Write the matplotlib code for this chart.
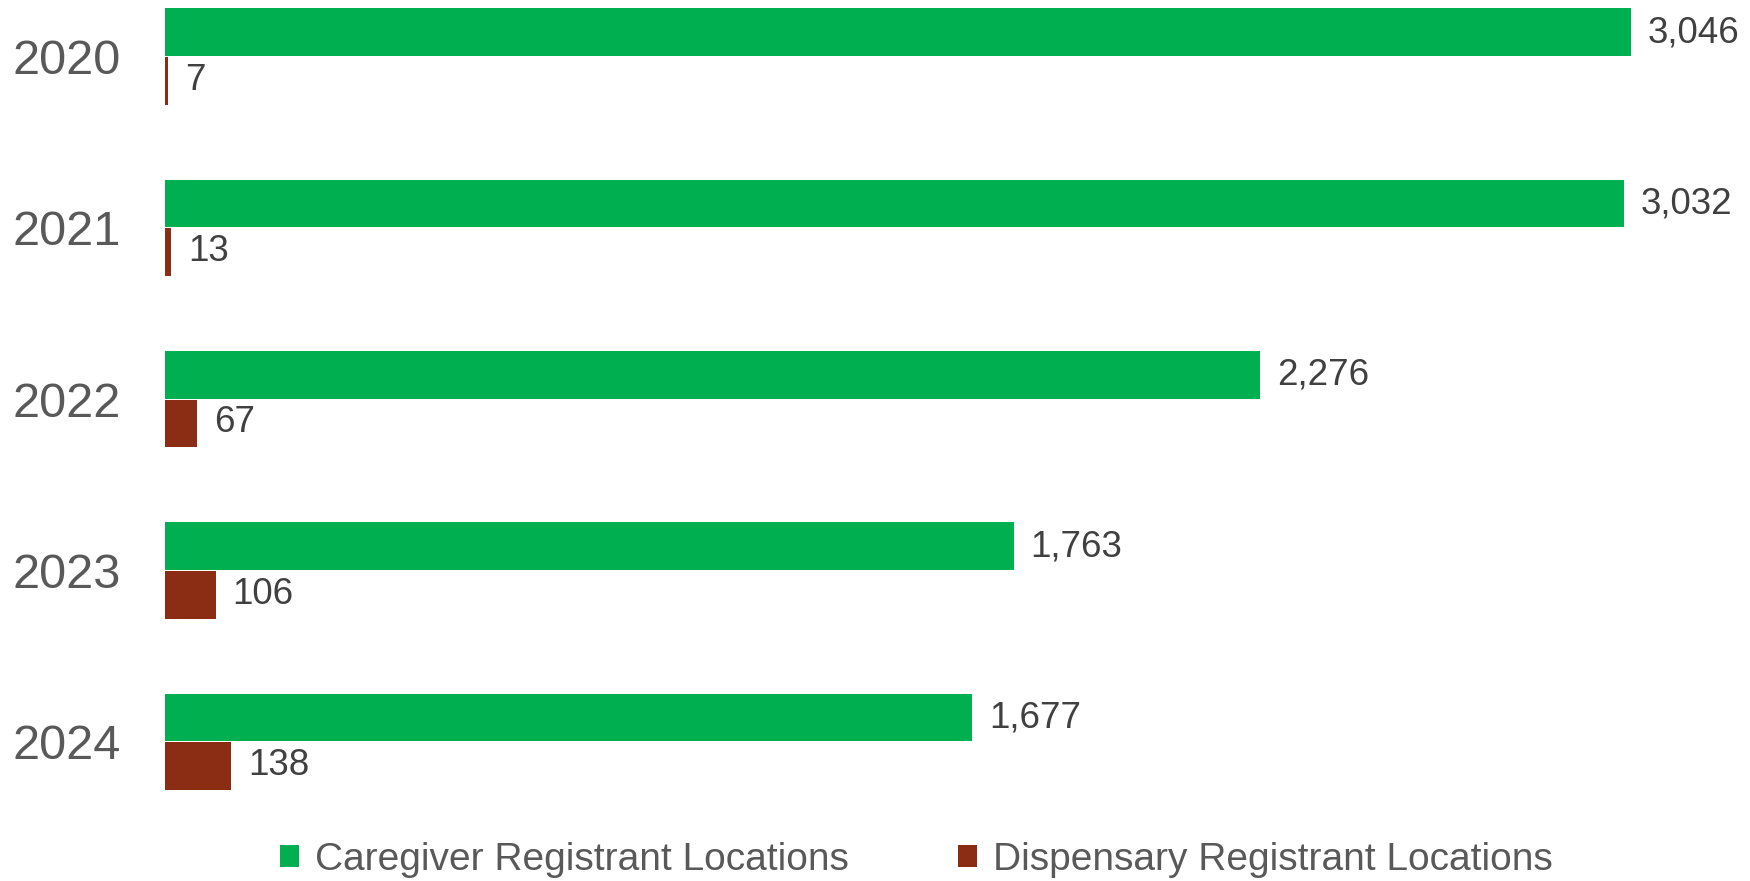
import matplotlib.pyplot as plt
import numpy as np

# Data
years = ["2020", "2021", "2022", "2023", "2024"]
caregiver = [3046, 3032, 2276, 1763, 1677]
dispensary = [7, 13, 67, 106, 138]

green = "#00B050"
brown = "#8B2D14"

plt.rcParams['font.family'] = ['Liberation Sans', 'DejaVu Sans']

fig = plt.figure(figsize=(17.5, 8.81), dpi=100)
ax = fig.add_axes([165 / 1750, 1 - 800 / 881, 1585 / 1750, 800 / 881])

y = np.arange(len(years))
h = 0.278
ax.barh(y - h / 2 - 0.003, caregiver, height=h, color=green, label="Caregiver Registrant Locations")
ax.barh(y + h / 2 + 0.003, dispensary, height=h, color=brown, label="Dispensary Registrant Locations")

# value labels
for i in range(len(years)):
    ax.annotate(f"{caregiver[i]:,}", (caregiver[i], y[i] - h / 2), xytext=(12, 0),
                textcoords="offset points", va="center", ha="left", fontsize=26.5, color="#404040")
    ax.annotate(f"{dispensary[i]:,}", (dispensary[i], y[i] + h / 2), xytext=(12, 0),
                textcoords="offset points", va="center", ha="left", fontsize=26.5, color="#404040")

top = 56.5
ax.set_xlim(0, 1585 / 1466 * 3046)
ax.set_ylim((800 - top) / 171.3, -top / 171.3)
ax.set_yticks(y)
ax.set_yticklabels(years, fontsize=35, color="#595959")
ax.tick_params(axis="y", length=0, pad=32)
ax.set_xticks([])
for s in ax.spines.values():
    s.set_visible(False)

fig.legend(loc="center", bbox_to_anchor=(916 / 1750, 1 - 860 / 881), ncol=2, frameon=False,
           fontsize=28, labelcolor="#595959", handlelength=0.5, handleheight=0.5,
           handletextpad=0.4, columnspacing=2.8, borderaxespad=0)

plt.savefig("out.png", dpi=100)
plt.close()
